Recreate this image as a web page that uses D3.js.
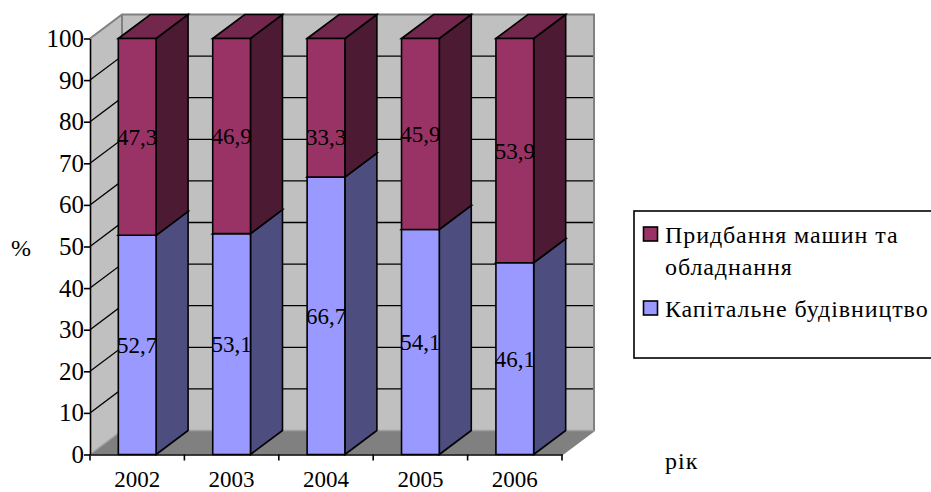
<!DOCTYPE html>
<html>
<head>
<meta charset="utf-8">
<script src="https://cdn.jsdelivr.net/npm/d3@7"></script>
<style>
  html, body { margin: 0; padding: 0; background: #fff; }
  text { font-family: "Liberation Serif", serif; fill: #000; }
  .tick text { font-family: "Liberation Serif", serif; }
</style>
</head>
<body>
<div id="chart"></div>
<script>
const years = ["2002", "2003", "2004", "2005", "2006"];
const building = [52.7, 53.1, 66.7, 54.1, 46.1];
const machines = [47.3, 46.9, 33.3, 45.9, 53.9];
const yTicks = [0, 10, 20, 30, 40, 50, 60, 70, 80, 90, 100];
const gridTicks = [10, 20, 30, 40, 50, 60, 70, 80, 90];
const legendLabels = [["Придбання машин та", "обладнання"], ["Капітальне будівництво"]];

const width = 931, height = 492;
// 3d offset of the back wall
const dx = 32, dy = -24;

const svg = d3.select("#chart").append("svg")
  .attr("width", width)
  .attr("height", height)
  .style("display", "block");

const x = d3.scaleBand().domain(years).range([90, 562]).paddingInner(0.6).paddingOuter(0.3);
const y = d3.scaleLinear().domain([0, 100]).range([454.5, 38.5]);
const line = d3.line();

const x0 = x.range()[0], x1 = x.range()[1];
const y0 = y(0), y100 = y(100);

// walls and floor
svg.append("path")
  .attr("d", line([[x0 + dx, y100 + dy], [x1 + dx, y100 + dy], [x1 + dx, y0 + dy], [x0 + dx, y0 + dy]]) + "Z")
  .attr("fill", "#c0c0c0");
svg.append("path")
  .attr("d", line([[x0, y100], [x0 + dx, y100 + dy], [x0 + dx, y0 + dy], [x0, y0]]) + "Z")
  .attr("fill", "#c0c0c0");
svg.append("path")
  .attr("d", line([[x0, y0], [x0 + dx, y0 + dy], [x1 + dx, y0 + dy], [x1, y0]]) + "Z")
  .attr("fill", "#808080");

// gray wall edges
svg.append("path")
  .attr("d", line([[x0, y100], [x0 + dx, y100 + dy], [x1 + dx, y100 + dy], [x1 + dx, y0 + dy], [x1, y0]]))
  .attr("fill", "none").attr("stroke", "#808080").attr("stroke-width", 2);
svg.append("path")
  .attr("d", line([[x0 + dx, y100 + dy], [x0 + dx, y0 + dy]]))
  .attr("fill", "none").attr("stroke", "#808080").attr("stroke-width", 2);
svg.append("path")
  .attr("d", line([[x0, y0], [x0 + dx, y0 + dy], [x1 + dx, y0 + dy]]))
  .attr("fill", "none").attr("stroke", "#a0a0a0").attr("stroke-width", 1.5);

// gridlines
gridTicks.forEach(t => {
  svg.append("path")
    .attr("d", line([[x0, y(t)], [x0 + dx, y(t) + dy], [x1 + dx - 1, y(t) + dy]]))
    .attr("fill", "none").attr("stroke", "#000").attr("stroke-width", 1.3);
});

// bars, back to front is not needed since they do not overlap
function box(year, from, to, front, side, top) {
  const l = x(year), r = l + x.bandwidth();
  const g = svg.append("g").attr("stroke", "#000").attr("stroke-width", 1.6).attr("stroke-linejoin", "miter");
  g.append("path")
    .attr("d", line([[r, y(from)], [r + dx, y(from) + dy], [r + dx, y(to) + dy], [r, y(to)]]) + "Z")
    .attr("fill", side);
  g.append("path")
    .attr("d", line([[l, y(to)], [l + dx, y(to) + dy], [r + dx, y(to) + dy], [r, y(to)]]) + "Z")
    .attr("fill", top);
  g.append("path")
    .attr("d", line([[l, y(from)], [r, y(from)], [r, y(to)], [l, y(to)]]) + "Z")
    .attr("fill", front);
}

years.forEach((yr, i) => {
  box(yr, 0, building[i], "#9999ff", "#4d4d80", "#7373bf");
  box(yr, building[i], building[i] + machines[i], "#993366", "#4d1a33", "#73274d");
});

// axes
const yAxis = d3.axisLeft(y).tickValues(yTicks).tickSize(6).tickSizeOuter(0).tickPadding(0);
const gy = svg.append("g").attr("transform", `translate(${x0},0)`).call(yAxis);
gy.selectAll("text").attr("font-size", 25).attr("fill", "#000").attr("dy", "0.32em");
gy.selectAll("line").attr("stroke", "#000").attr("stroke-width", 1.6);
gy.select(".domain").attr("stroke", "#000").attr("stroke-width", 1.6);

const xAxis = d3.axisBottom(x).tickSize(0).tickPadding(16);
const gx = svg.append("g").attr("transform", `translate(0,${y0})`).call(xAxis);
gx.selectAll("text").attr("font-size", 23).attr("fill", "#000");
gx.select(".domain").attr("stroke", "#000").attr("stroke-width", 1.6);

// x ticks sit on the band boundaries
const step = (x1 - x0) / years.length;
d3.range(years.length + 1).forEach(i => {
  svg.append("line")
    .attr("x1", x0 + i * step).attr("x2", x0 + i * step)
    .attr("y1", y0).attr("y2", y0 + 6)
    .attr("stroke", "#000").attr("stroke-width", 1.6);
});

// data labels
const fmt = v => String(v).replace(".", ",");
// the 2004 upper label sits lower than the middle of its segment in the original
const movedLabelYear = "2004", movedLabelShift = 29;
years.forEach((yr, i) => {
  const cx = x(yr) + x.bandwidth() / 2;
  const shift = yr === movedLabelYear ? movedLabelShift : 0;
  svg.append("text").attr("x", cx).attr("y", y(building[i] / 2) + 8)
    .attr("text-anchor", "middle").attr("font-size", 23).text(fmt(building[i]));
  svg.append("text").attr("x", cx).attr("y", y(building[i] + machines[i] / 2) + 8 + shift)
    .attr("text-anchor", "middle").attr("font-size", 23).text(fmt(machines[i]));
});

// axis titles
svg.append("text").attr("x", 21).attr("y", 256).attr("text-anchor", "middle").attr("font-size", 24).text("%");
svg.append("text").attr("x", 665).attr("y", 469).attr("font-size", 24).attr("letter-spacing", 1).text("рік");

// legend
svg.append("rect")
  .attr("x", 634).attr("y", 211).attr("width", 310).attr("height", 147)
  .attr("fill", "#fff").attr("stroke", "#000").attr("stroke-width", 1.6);

const legendColors = ["#993366", "#9999ff"];
const swatchY = [227, 301];
const textY = [[243, 275], [317]];
legendLabels.forEach((lines, i) => {
  svg.append("rect")
    .attr("x", 643.5).attr("y", swatchY[i]).attr("width", 14).attr("height", 14)
    .attr("fill", legendColors[i]).attr("stroke", "#000").attr("stroke-width", 1.6);
  lines.forEach((t, j) => {
    svg.append("text").attr("x", 665).attr("y", textY[i][j])
      .attr("font-size", 24).attr("letter-spacing", 0.9).text(t);
  });
});
</script>
</body>
</html>
